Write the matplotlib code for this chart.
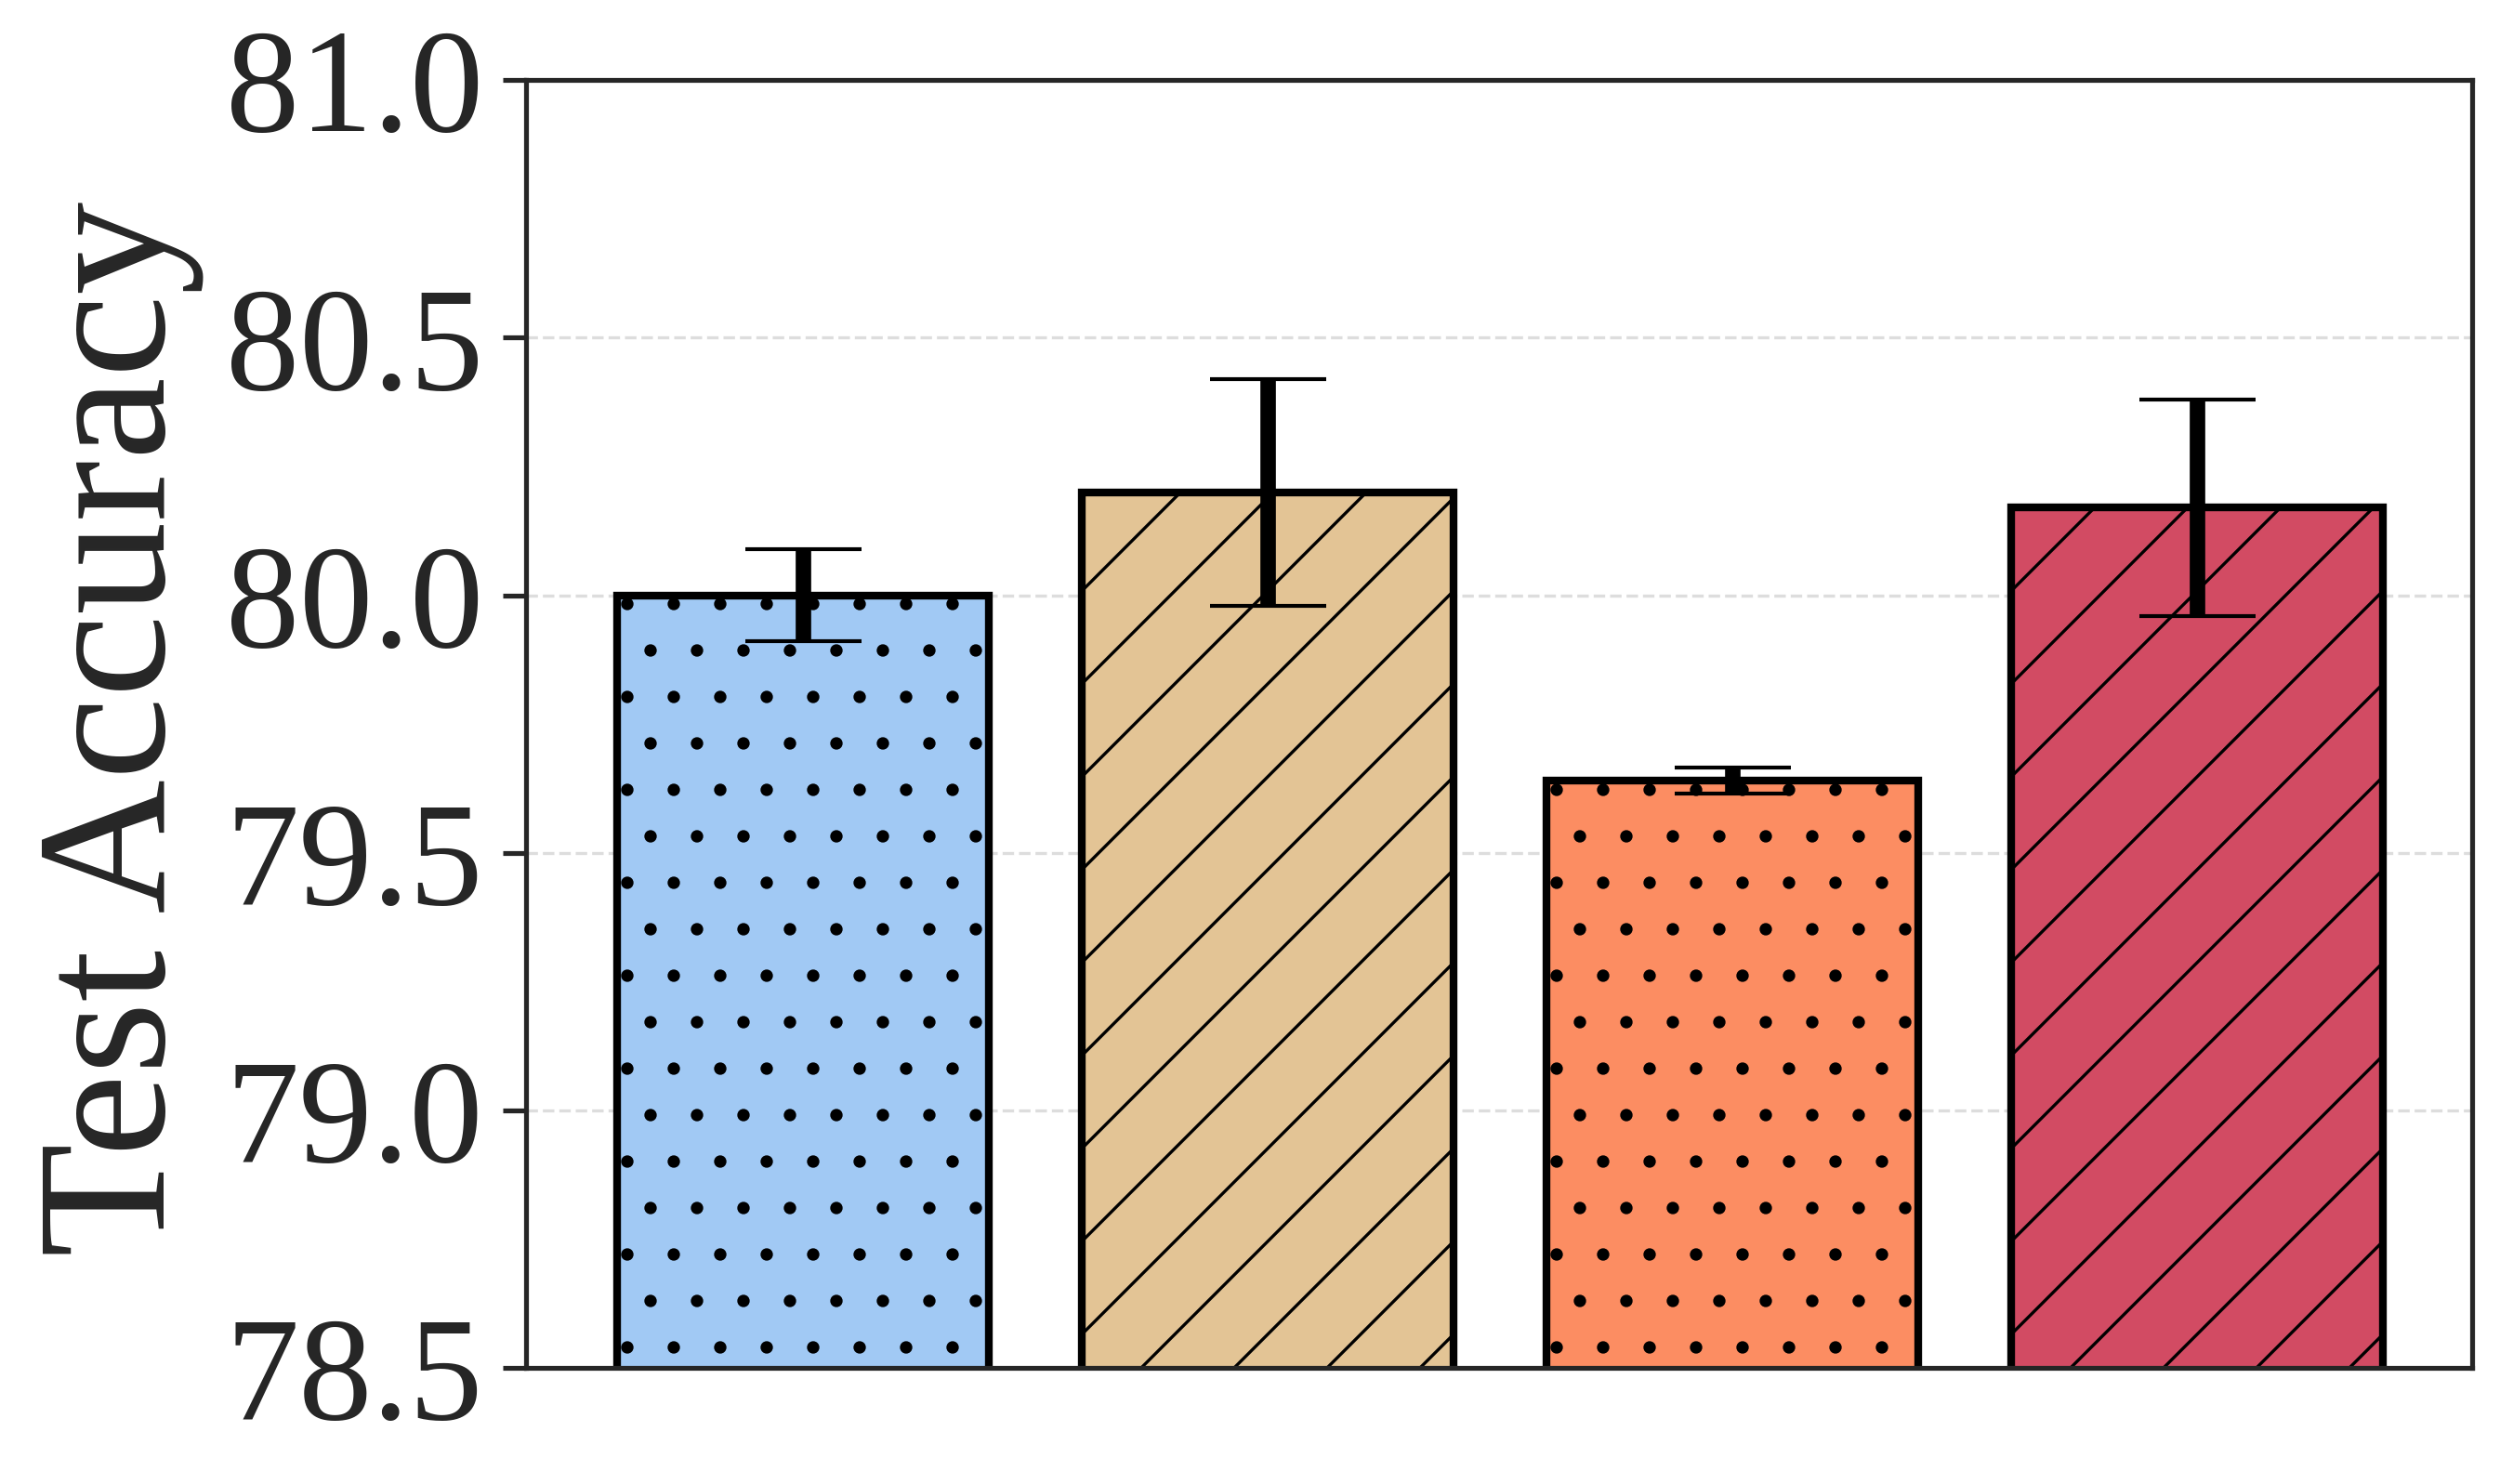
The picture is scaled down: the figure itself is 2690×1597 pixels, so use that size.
import os
import matplotlib
matplotlib.use("Agg")
import matplotlib.pyplot as plt
import matplotlib.transforms as mtransforms
from matplotlib import font_manager as fm
import numpy as np

values = [80.00, 80.20, 79.64, 80.17]
errors = [0.09, 0.22, 0.025, 0.21]
colors = ["#a1c9f4", "#e3c495", "#fc8d62", "#d24b63"]
hatches = [".", "/", ".", "/"]
yticks = [78.5, 79.0, 79.5, 80.0, 80.5, 81.0]
ytick_labels = ["78.5", "79.0", "79.5", "80.0", "80.5", "81.0"]
ylabel = "Test Accuracy"

SERIF = 'Liberation Serif'
plt.rcParams['hatch.linewidth'] = 0.8

fig = plt.figure(figsize=(2690/300, 1597/300), dpi=300)
ax = fig.add_axes([0.2104, 0.0783, 0.989 - 0.2104, 0.946 - 0.0783])

x = np.arange(len(values))
ax.set_axisbelow(True)
ax.yaxis.grid(True, linestyle='--', color='#dddddd', linewidth=0.8)
bars = ax.bar(x, values, width=0.8, color=colors, edgecolor='black', linewidth=2.0,
              zorder=2)
for b, h in zip(bars, hatches):
    b.set_hatch(h)
ax.errorbar(x, values, yerr=errors, fmt='none', ecolor='black', elinewidth=4,
            capsize=15, capthick=1.0, zorder=3)

ax.set_ylim(78.5, 81.0)
ax.set_xlim(-0.595, 3.592)
ax.set_yticks(yticks)
ax.set_yticklabels([])
ax.set_xticks([])
for s in ax.spines.values():
    s.set_color('#262626')
    s.set_linewidth(1.25)
ax.tick_params(axis='y', length=6, width=1.25, color='#262626')

# tick labels placed at the data positions through the axes' y transform
offset = mtransforms.ScaledTranslation(-(6 + 5) / 72, 0, fig.dpi_scale_trans)
label_tr = ax.get_yaxis_transform() + offset
for t, s in zip(yticks, ytick_labels):
    fig.text(0, t, s, transform=label_tr, ha='right', va='center_baseline',
             fontsize=38, family=SERIF, color='#262626')

fig.text(0.048, 0.509, ylabel, rotation=90, ha='center', va='center',
         fontsize=48, family=SERIF, color='#262626')

fig.savefig("out.png", dpi=300)
